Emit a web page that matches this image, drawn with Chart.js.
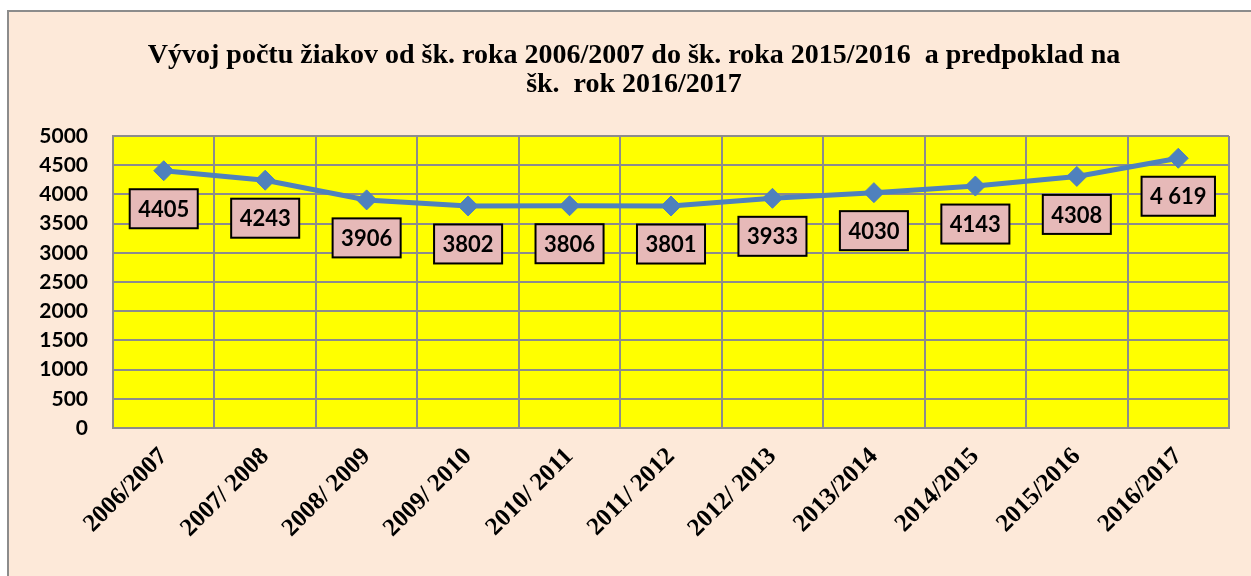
<!DOCTYPE html>
<html>
<head>
<meta charset="utf-8">
<script src="https://cdn.jsdelivr.net/npm/chart.js@4.4.1/dist/chart.umd.min.js"></script>
<style>
  html, body { margin: 0; padding: 0; background: #ffffff; width: 1251px; height: 576px; overflow: hidden; }
  #wrap { position: absolute; left: 7px; top: 10px; width: 1244px; height: 566px;
          border-left: 2px solid #8c8c8c; border-top: 2px solid #8c8c8c; background: #FDE9D9; }
  canvas { display: block; }
</style>
</head>
<body>
<div id="wrap"><canvas id="c" width="1242" height="564" style="width:1242px;height:564px"></canvas></div>
<script>
const titleLines = ["Vývoj počtu žiakov od šk. roka 2006/2007 do šk. roka 2015/2016  a predpoklad na", "šk.  rok 2016/2017"];
const categories = ["2006/2007", "2007/ 2008", "2008/ 2009", "2009/ 2010", "2010/ 2011", "2011/ 2012", "2012/ 2013", "2013/2014", "2014/2015", "2015/2016", "2016/2017"];
const pupils = [4405, 4243, 3906, 3802, 3806, 3801, 3933, 4030, 4143, 4308, 4619];
const valueLabels = ["4405", "4243", "3906", "3802", "3806", "3801", "3933", "4030", "4143", "4308", "4 619"];
const yMin = 0, yMax = 5000, yStep = 500;

const plotBg = {
  id: 'plotBg',
  beforeDraw(chart) {
    const { ctx, chartArea: a } = chart;
    ctx.save();
    ctx.fillStyle = '#FFFF00';
    ctx.fillRect(a.left, a.top, a.right - a.left, a.bottom - a.top);
    ctx.restore();
  },
  afterDatasetsDraw(chart) {
    const { ctx } = chart;
    const meta = chart.getDatasetMeta(0);
    ctx.save();
    ctx.font = 'bold 22px Lato';
    ctx.textAlign = 'center';
    ctx.textBaseline = 'middle';
    meta.data.forEach((pt, i) => {
      const txt = valueLabels[i];
      const w = ctx.measureText(txt).width + 17;
      const h = 39;
      const cx = pt.x, cy = pt.y + 38;
      ctx.fillStyle = '#E6B9B8';
      ctx.fillRect(cx - w / 2, cy - h / 2, w, h);
      ctx.lineWidth = 2;
      ctx.strokeStyle = '#000000';
      ctx.strokeRect(cx - w / 2, cy - h / 2, w, h);
      ctx.fillStyle = '#000000';
      ctx.fillText(txt, cx, cy + 1);
    });
    ctx.restore();
  }
};

new Chart(document.getElementById('c'), {
  type: 'line',
  data: {
    labels: categories,
    datasets: [{
      data: pupils,
      borderColor: '#4F81BD',
      backgroundColor: '#4F81BD',
      borderWidth: 5,
      pointStyle: 'rectRot',
      pointRadius: 10,
      pointHoverRadius: 10,
      pointBackgroundColor: '#4F81BD',
      pointBorderColor: '#4F81BD',
      pointBorderWidth: 1,
      tension: 0,
      clip: false
    }]
  },
  options: {
    responsive: false,
    animation: false,
    events: [],
    layout: { padding: { left: 30, right: 22, top: 0, bottom: 0 } },
    plugins: {
      legend: { display: false },
      tooltip: { enabled: false },
      title: {
        display: true,
        text: titleLines,
        color: '#000000',
        font: { family: 'Liberation Serif', size: 28, weight: 'bold', lineHeight: 29 / 28 },
        padding: { top: 29, bottom: 37 }
      }
    },
    scales: {
      x: {
        offset: true,
        grid: { display: true, offset: true, color: '#8c8c8c', lineWidth: 2, drawTicks: false },
        border: { display: true, color: '#8c8c8c', width: 2 },
        ticks: {
          color: '#000000',
          font: { family: 'Liberation Serif', size: 25, weight: 'bold' },
          maxRotation: 45, minRotation: 45,
          padding: 14,
          autoSkip: false
        },
        afterFit(scale) { scale.height = 148; }
      },
      y: {
        min: yMin, max: yMax,
        grid: { color: '#8c8c8c', lineWidth: 2, drawTicks: false },
        border: { display: true, color: '#8c8c8c', width: 2 },
        ticks: {
          stepSize: yStep,
          autoSkip: false,
          color: '#000000',
          font: { family: 'Lato', size: 21, weight: 'bold', lineHeight: 1 },
          padding: 25,
          callback: (v) => String(v)
        },
        afterFit(scale) { scale.width = 74; }
      }
    }
  },
  plugins: [plotBg]
});
</script>
</body>
</html>
